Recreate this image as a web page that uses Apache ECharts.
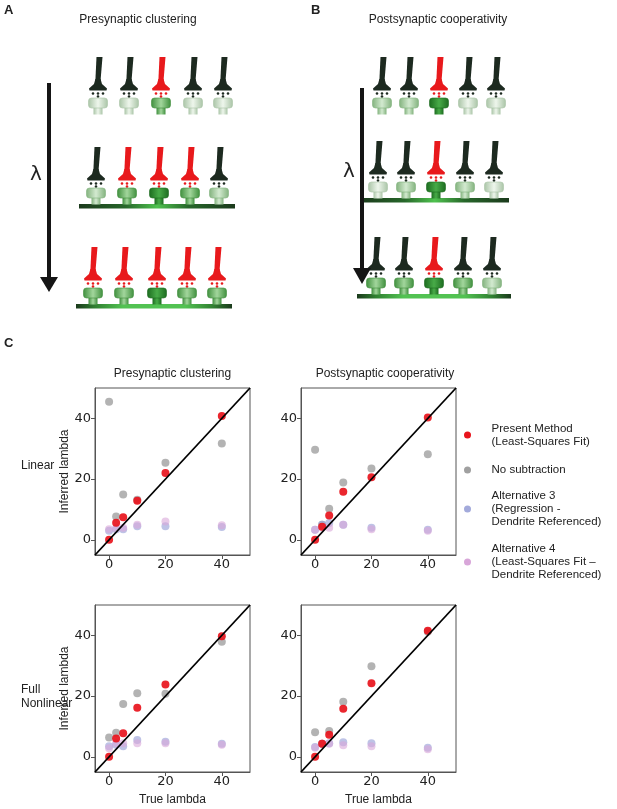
<!DOCTYPE html>
<html>
<head>
<meta charset="utf-8">
<script src="https://cdn.jsdelivr.net/npm/echarts@6/dist/echarts.min.js"></script>
<style>html,body{margin:0;padding:0;background:#fff}#c{width:617px;height:809px}</style>
</head>
<body>
<div id="c"></div>
<script>
// ---------- DATA ----------
const trueLambda = [0, 2.5, 5, 10, 20, 40];
const tickValues = [0, 20, 40];
const seriesNames = ['Present Method', 'No subtraction', 'Alternative 3', 'Alternative 4'];
const legendLabels = ['Present Method\n(Least-Squares Fit)', 'No subtraction',
  'Alternative 3\n(Regression -\nDendrite Referenced)', 'Alternative 4\n(Least-Squares Fit –\nDendrite Referenced)'];
const columnTitles = ['Presynaptic clustering', 'Postsynaptic cooperativity'];
const rowTitles = ['Linear', 'Full\nNonlinear'];

// Presynaptic clustering, Linear
const presentPreLin = [0, 5.6, 7.4, 12.9, 22.0, 40.8];
const noSubPreLin   = [45.5, 7.7, 14.9, 13.2, 25.4, 31.7];
const alt3PreLin    = [3.0, 3.5, 3.5, 4.5, 4.5, 4.2];
const alt4PreLin    = [3.5, 3.8, 4.0, 5.0, 6.0, 4.8];
// Postsynaptic cooperativity, Linear
const presentPostLin = [0, 4.3, 8.0, 15.8, 20.6, 40.3];
const noSubPostLin   = [29.7, 5.0, 10.2, 18.9, 23.5, 28.2];
const alt3PostLin    = [3.3, 5.0, 5.5, 5.0, 4.0, 3.3];
const alt4PostLin    = [3.3, 4.0, 4.0, 5.0, 3.5, 3.0];
// Presynaptic clustering, Full Nonlinear
const presentPreNl = [0, 6.0, 7.8, 16.2, 23.8, 39.7];
const noSubPreNl   = [6.4, 7.9, 17.4, 20.9, 20.8, 37.9];
const alt3PreNl    = [3.5, 4.0, 3.5, 5.5, 5.0, 4.3];
const alt4PreNl    = [2.8, 4.5, 4.5, 4.5, 4.5, 4.0];
// Postsynaptic cooperativity, Full Nonlinear
const presentPostNl = [0, 4.3, 7.3, 15.8, 24.2, 41.5];
const noSubPostNl   = [8.1, 4.3, 8.5, 18.1, 29.8, 41.2];
const alt3PostNl    = [3.2, 4.3, 4.5, 4.8, 4.5, 3.0];
const alt4PostNl    = [3.0, 4.3, 4.3, 3.8, 3.5, 2.5];

const identityLine = [[-5, -5], [50, 50]];

const panels = [
  [presentPreLin, noSubPreLin, alt3PreLin, alt4PreLin],
  [presentPostLin, noSubPostLin, alt3PostLin, alt4PostLin],
  [presentPreNl, noSubPreNl, alt3PreNl, alt4PreNl],
  [presentPostNl, noSubPostNl, alt3PostNl, alt4PostNl]
];

// ---------- STYLE ----------
const seriesColors = ['#e8141c', '#a0a0a0', '#a3aadb', '#d8a6d9'];
const seriesOpacity = [0.92, 0.8, 0.7, 0.6];
const drawOrder = [1, 2, 3, 0];
const gridPos = [
  {left: 95, top: 388}, {left: 301, top: 388},
  {left: 95, top: 605}, {left: 301, top: 605}
];
const TXT = 'Liberation Sans, Arial, sans-serif';

const grids = gridPos.map(p => ({left: p.left, top: p.top, width: 155, height: 167,
  show: true, borderColor: '#555', borderWidth: 1, backgroundColor: 'transparent', containLabel: false}));

const axisCommon = {
  type: 'value', min: -5, max: 50,
  splitLine: {show: false},
  axisLine: {show: true, onZero: false, lineStyle: {color: '#555', width: 1}},
  axisTick: {show: true, length: 4, inside: false, customValues: tickValues, lineStyle: {color: '#555'}},
  axisLabel: {customValues: tickValues, color: '#222', fontFamily: 'DejaVu Sans', fontSize: 13}
};

const xAxes = gridPos.map((p, i) => Object.assign({}, axisCommon, {
  gridIndex: i,
  axisLabel: Object.assign({}, axisCommon.axisLabel, {margin: 3}),
  name: i >= 2 ? 'True lambda' : '',
  nameLocation: 'middle', nameGap: 22,
  nameTextStyle: {fontFamily: TXT, fontSize: 12, color: '#222'}
}));
const yAxes = gridPos.map((p, i) => Object.assign({}, axisCommon, {
  gridIndex: i,
  axisLabel: Object.assign({}, axisCommon.axisLabel, {margin: 4}),
  name: (i % 2 === 0) ? 'Inferred lambda' : '',
  nameLocation: 'middle', nameGap: 24,
  nameTextStyle: {fontFamily: TXT, fontSize: 12, color: '#222'}
}));

const series = [];
panels.forEach((vals, gi) => {
  drawOrder.forEach(si => {
    series.push({
      type: 'scatter', name: seriesNames[si], xAxisIndex: gi, yAxisIndex: gi,
      symbol: 'circle', symbolSize: 8,
      itemStyle: {color: seriesColors[si], opacity: seriesOpacity[si]},
      data: trueLambda.map((x, k) => [x, vals[si][k]]),
      z: 2 + (si === 0 ? 1 : 0), silent: true
    });
  });
  series.push({
    type: 'line', xAxisIndex: gi, yAxisIndex: gi, data: identityLine,
    symbol: 'none', lineStyle: {color: '#000', width: 1.8}, z: 5, silent: true
  });
});

const legendCenters = [430, 465, 504, 557];
const legendLines = [2, 1, 3, 3];
const legends = seriesNames.map((n, i) => ({
  data: [{name: n, itemStyle: {color: seriesColors[i], opacity: 1}}],
  orient: 'vertical', left: 459, top: legendCenters[i] - legendLines[i] * 6.5,
  icon: 'circle', itemWidth: 38, itemHeight: 7, itemGap: 0, selectedMode: false,
  formatter: () => legendLabels[i],
  textStyle: {fontFamily: TXT, fontSize: 11.5, color: '#222', lineHeight: 13}
}));

// ---------- SCHEMATIC (panels A, B) ----------
const G = [];
const AXON = ['#1d2a20', '#e8191c'];
const SPINE = [
  ['#a9c4a6', '#eef6ec'],
  ['#82b27d', '#d3ead0'],
  ['#3f8f3d', '#a2d69c'],
  ['#1c6b1f', '#48ab48']
];
function hgrad(stops) {
  return {type: 'linear', x: 0, y: 0, x2: 1, y2: 0,
    colorStops: stops.map(s => ({offset: s[0], color: s[1]}))};
}
function synapse(cx, y0, axonIdx, spineIdx) {
  const ac = AXON[axonIdx];
  G.push({type: 'polygon', shape: {points: [[cx - 1.5, y0], [cx + 4.5, y0], [cx + 2.6, y0 + 23], [cx - 2.6, y0 + 23]]}, style: {fill: ac}});
  G.push({type: 'polygon', shape: {points: [[cx - 2.6, y0 + 22], [cx + 2.6, y0 + 22], [cx + 4, y0 + 27], [cx + 9, y0 + 31.5], [cx + 8.5, y0 + 33.5], [cx - 8.5, y0 + 33.5], [cx - 9, y0 + 31.5], [cx - 4, y0 + 27]]}, style: {fill: ac}});
  [[-5, 36.5], [0, 36.5], [5, 36.5], [0, 39.5]].forEach(d =>
    G.push({type: 'circle', shape: {cx: cx + d[0], cy: y0 + d[1], r: 1.3}, style: {fill: ac}}));
  const sc = SPINE[spineIdx];
  const g = hgrad([[0, sc[0]], [0.5, sc[1]], [1, sc[0]]]);
  G.push({type: 'rect', shape: {x: cx - 4.5, y: y0 + 49, width: 9, height: 8.5}, style: {fill: g}});
  G.push({type: 'rect', shape: {x: cx - 9.5, y: y0 + 41, width: 19, height: 10, r: 3}, style: {fill: g, stroke: sc[0], lineWidth: 0.6}});
}
function dendrite(x1, x2, y, wide) {
  const stops = wide
    ? [[0, '#1b3a1c'], [0.12, '#2f7f30'], [0.3, '#52c252'], [0.7, '#52c252'], [0.88, '#2f7f30'], [1, '#1b3a1c']]
    : [[0, '#1b3a1c'], [0.3, '#27672a'], [0.5, '#4fc24f'], [0.7, '#27672a'], [1, '#1b3a1c']];
  G.push({type: 'rect', shape: {x: x1, y: y, width: x2 - x1, height: 4.5}, style: {fill: hgrad(stops)}});
}
function arrow(x, y1, y2, yh) {
  G.push({type: 'rect', shape: {x: x - 2, y: y1, width: 4, height: y2 - y1 + 1}, style: {fill: '#151515'}});
  G.push({type: 'polygon', shape: {points: [[x - 9, y2], [x + 9, y2], [x, yh]]}, style: {fill: '#151515'}});
}
function text(t, x, y, opt) {
  G.push({type: 'text', style: Object.assign({text: t, x: x, y: y, fill: '#222', font: '12px ' + TXT,
    textAlign: 'center', textVerticalAlign: 'middle'}, opt || {})});
}

const rowsA = [
  {y0: 57, xs: [98, 129, 161, 193, 223], axons: [0, 0, 1, 0, 0], spines: [0, 0, 2, 0, 0]},
  {y0: 147, xs: [96, 127, 159, 190, 219], axons: [0, 1, 1, 1, 0], spines: [1, 2, 3, 2, 1], bar: [79, 235, false]},
  {y0: 247, xs: [93, 124, 157, 187, 217], axons: [1, 1, 1, 1, 1], spines: [2, 2, 3, 2, 2], bar: [76, 232, true]}
];
const rowsB = [
  {y0: 57, xs: [382, 409, 439, 468, 496], axons: [0, 0, 1, 0, 0], spines: [1, 1, 3, 0, 0]},
  {y0: 141, xs: [378, 406, 436, 465, 494], axons: [0, 0, 1, 0, 0], spines: [0, 1, 3, 1, 0], bar: [360, 509, false]},
  {y0: 237, xs: [376, 404, 434, 463, 492], axons: [0, 0, 1, 0, 0], spines: [2, 2, 3, 2, 1], bar: [357, 511, true]}
];
[rowsA, rowsB].forEach(rows => rows.forEach(r => {
  if (r.bar) dendrite(r.bar[0], r.bar[1], r.y0 + 57, r.bar[2]);
  r.xs.forEach((x, k) => synapse(x, r.y0, r.axons[k], r.spines[k]));
}));
arrow(49, 83, 277, 292);
arrow(362, 88, 268, 284);
text('λ', 36, 175, {font: '20px DejaVu Sans'});
text('λ', 349, 172, {font: '20px DejaVu Sans'});
text('A', 4, 10, {font: 'bold 13px ' + TXT, textAlign: 'left'});
text('B', 311, 10, {font: 'bold 13px ' + TXT, textAlign: 'left'});
text('C', 4, 343, {font: 'bold 13px ' + TXT, textAlign: 'left'});
text('Presynaptic clustering', 138, 20);
text('Postsynaptic cooperativity', 438, 20);
text(columnTitles[0], 172.5, 374);
text(columnTitles[1], 385, 374);
text(rowTitles[0], 21, 466, {textAlign: 'left'});
text(rowTitles[1], 21, 697, {textAlign: 'left', lineHeight: 14});

const chart = echarts.init(document.getElementById('c'), null, {renderer: 'canvas'});
chart.setOption({
  animation: false,
  backgroundColor: '#fff',
  grid: grids, xAxis: xAxes, yAxis: yAxes,
  legend: legends,
  series: series,
  graphic: G
});
</script>
</body>
</html>
